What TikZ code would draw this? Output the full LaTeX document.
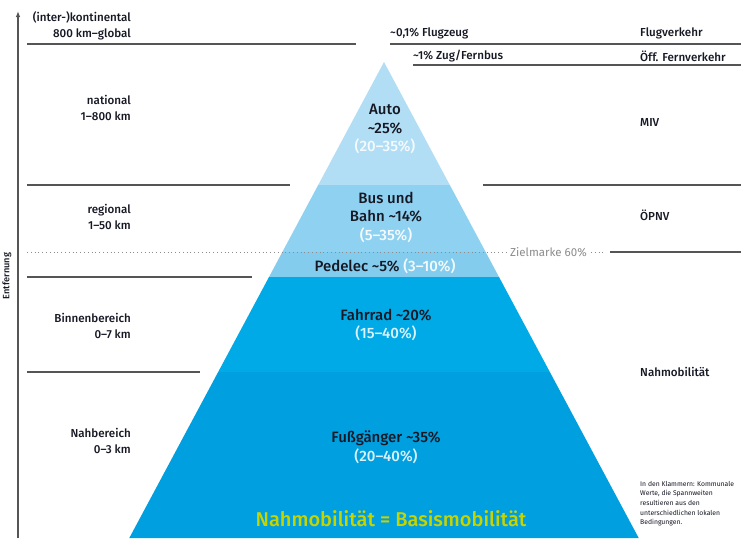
\documentclass[tikz,border=0pt]{standalone}
\usepackage{fontspec}
\setmainfont{Fira Sans}[BoldFont={* Medium}]
\usetikzlibrary{arrows.meta}
\definecolor{bandA}{RGB}{178,222,245}
\definecolor{bandB}{RGB}{143,209,240}
\definecolor{bandC}{RGB}{132,204,238}
\definecolor{bandD}{RGB}{0,170,230}
\definecolor{bandE}{RGB}{0,159,224}
\definecolor{ink}{RGB}{22,24,36}
\definecolor{rule}{RGB}{85,85,85}
\definecolor{hint}{RGB}{140,140,140}
\definecolor{slogan}{RGB}{200,212,0}
\tikzset{
  sep/.style={draw=rule, line width=1.1pt},
  dotsep/.style={draw=hint, line width=1pt, dash pattern=on 1pt off 2.8pt},
  lbl/.style={inner sep=0pt, text=ink, font=\bfseries\fontsize{11.6}{16}\selectfont},
  llbl/.style={lbl, anchor=east, align=right},
  rlbl/.style={lbl, anchor=west, align=left},
  plbl/.style={inner sep=0pt, text=ink, font=\bfseries\fontsize{15}{18.5}\selectfont, align=center},
}
\begin{document}
\begin{tikzpicture}[x=1pt, y=-1pt]
\useasboundingbox (0,0) rectangle (741,538);
\fill[white] (0,0) rectangle (741,538);

% pyramid bands, apex (384,62), half width 0.535 per unit of depth
\fill[bandA] (384,62) -- (449.8,185) -- (318.2,185) -- cycle;
\fill[bandB] (318.2,185) -- (449.8,185) -- (485.65,252) -- (282.35,252) -- cycle;
\fill[bandC] (282.35,252) -- (485.65,252) -- (499.0,277) -- (269.0,277) -- cycle;
\fill[bandD] (269.0,277) -- (499.0,277) -- (549.85,372) -- (218.15,372) -- cycle;
\fill[bandE] (218.15,372) -- (549.85,372) -- (638.7,538) -- (129.3,538) -- cycle;

% distance axis
\coordinate (axb) at (18,538);
\coordinate (axt) at (18,11);
\draw[rule, line width=1.1pt, -{Latex[length=6pt,width=4.5pt]}] (axb) -- (axt);
\node[lbl, rotate=90, font=\bfseries\fontsize{9.2}{10}\selectfont] (axis) at (7,276) {Entfernung};

% separators
\draw[sep] (27,44) -- (356,44);
\draw[sep] (390,44) -- (741,44);
\draw[sep] (413,65) -- (741,65);
\draw[sep] (27,185) -- (290,185);
\draw[sep] (483,185) -- (741,185);
\draw[dotsep] (27,252) -- (506,252);
\node[inner sep=0pt, text=hint, font=\fontsize{11.5}{12}\selectfont, anchor=west] (goal) at (510,252) {Zielmarke 60\%};
\draw[dotsep] (goal.east) ++(4,0) -- ++(12,0);
\draw[sep] (610,252) -- (741,252);
\draw[sep] (27,277) -- (252,277);
\draw[sep] (27,372) -- (200,372);

% distance classes
\node[llbl] (kont) at (131,26) {(inter-)kontinental\\800 km–global};
\node[llbl] (nat) at (131,108) {national\\1–800 km};
\node[llbl] (reg) at (131,217) {regional\\1–50 km};
\node[llbl] (binn) at (131,326) {Binnenbereich\\0–7 km};
\node[llbl] (nah) at (131,441) {Nahbereich\\0–3 km};

% long-distance shares
\node[rlbl] (flug) at (390,33) {\textasciitilde 0,1\% Flugzeug};
\node[rlbl] (zug) at (413,56) {\textasciitilde 1\% Zug/Fernbus};

% traffic types
\node[rlbl] (fv) at (640,33) {Flugverkehr};
\node[rlbl] (ofv) at (640,56) {Öff. Fernverkehr};
\node[rlbl] (miv) at (640,122) {MIV};
\node[rlbl] (opnv) at (640,215) {ÖPNV};
\node[rlbl] (nahm) at (640,372) {Nahmobilität};

% mode shares
\node[plbl] (auto) at (385,129) {Auto\\\textasciitilde 25\%\\\textcolor{white!85!bandA}{(20–35\%)}};
\node[plbl] (bus) at (386,217) {Bus und\\Bahn \textasciitilde 14\%\\\textcolor{white!90!bandB}{(5–35\%)}};
\node[plbl] (ped) at (385,266) {Pedelec \textasciitilde 5\% \textcolor{white!90!bandC}{(3–10\%)}};
\node[plbl] (rad) at (386,325) {Fahrrad \textasciitilde 20\%\\\textcolor{white!85!bandD}{(15–40\%)}};
\node[plbl] (fuss) at (386,447) {Fußgänger \textasciitilde 35\%\\\textcolor{white!85!bandE}{(20–40\%)}};
\node[inner sep=0pt, text=slogan, font=\bfseries\fontsize{20}{22}\selectfont] (base) at (391,519) {Nahmobilität = Basismobilität};

% footnote
\node[inner sep=0pt, anchor=north west, align=left, text=ink, font=\fontsize{6.8}{9.6}\selectfont] (note) at (640,481) {In den Klammern: Kommunale\\Werte, die Spannweiten\\resultieren aus den\\unterschiedlichen lokalen\\Bedingungen.};
\end{tikzpicture}
\end{document}
